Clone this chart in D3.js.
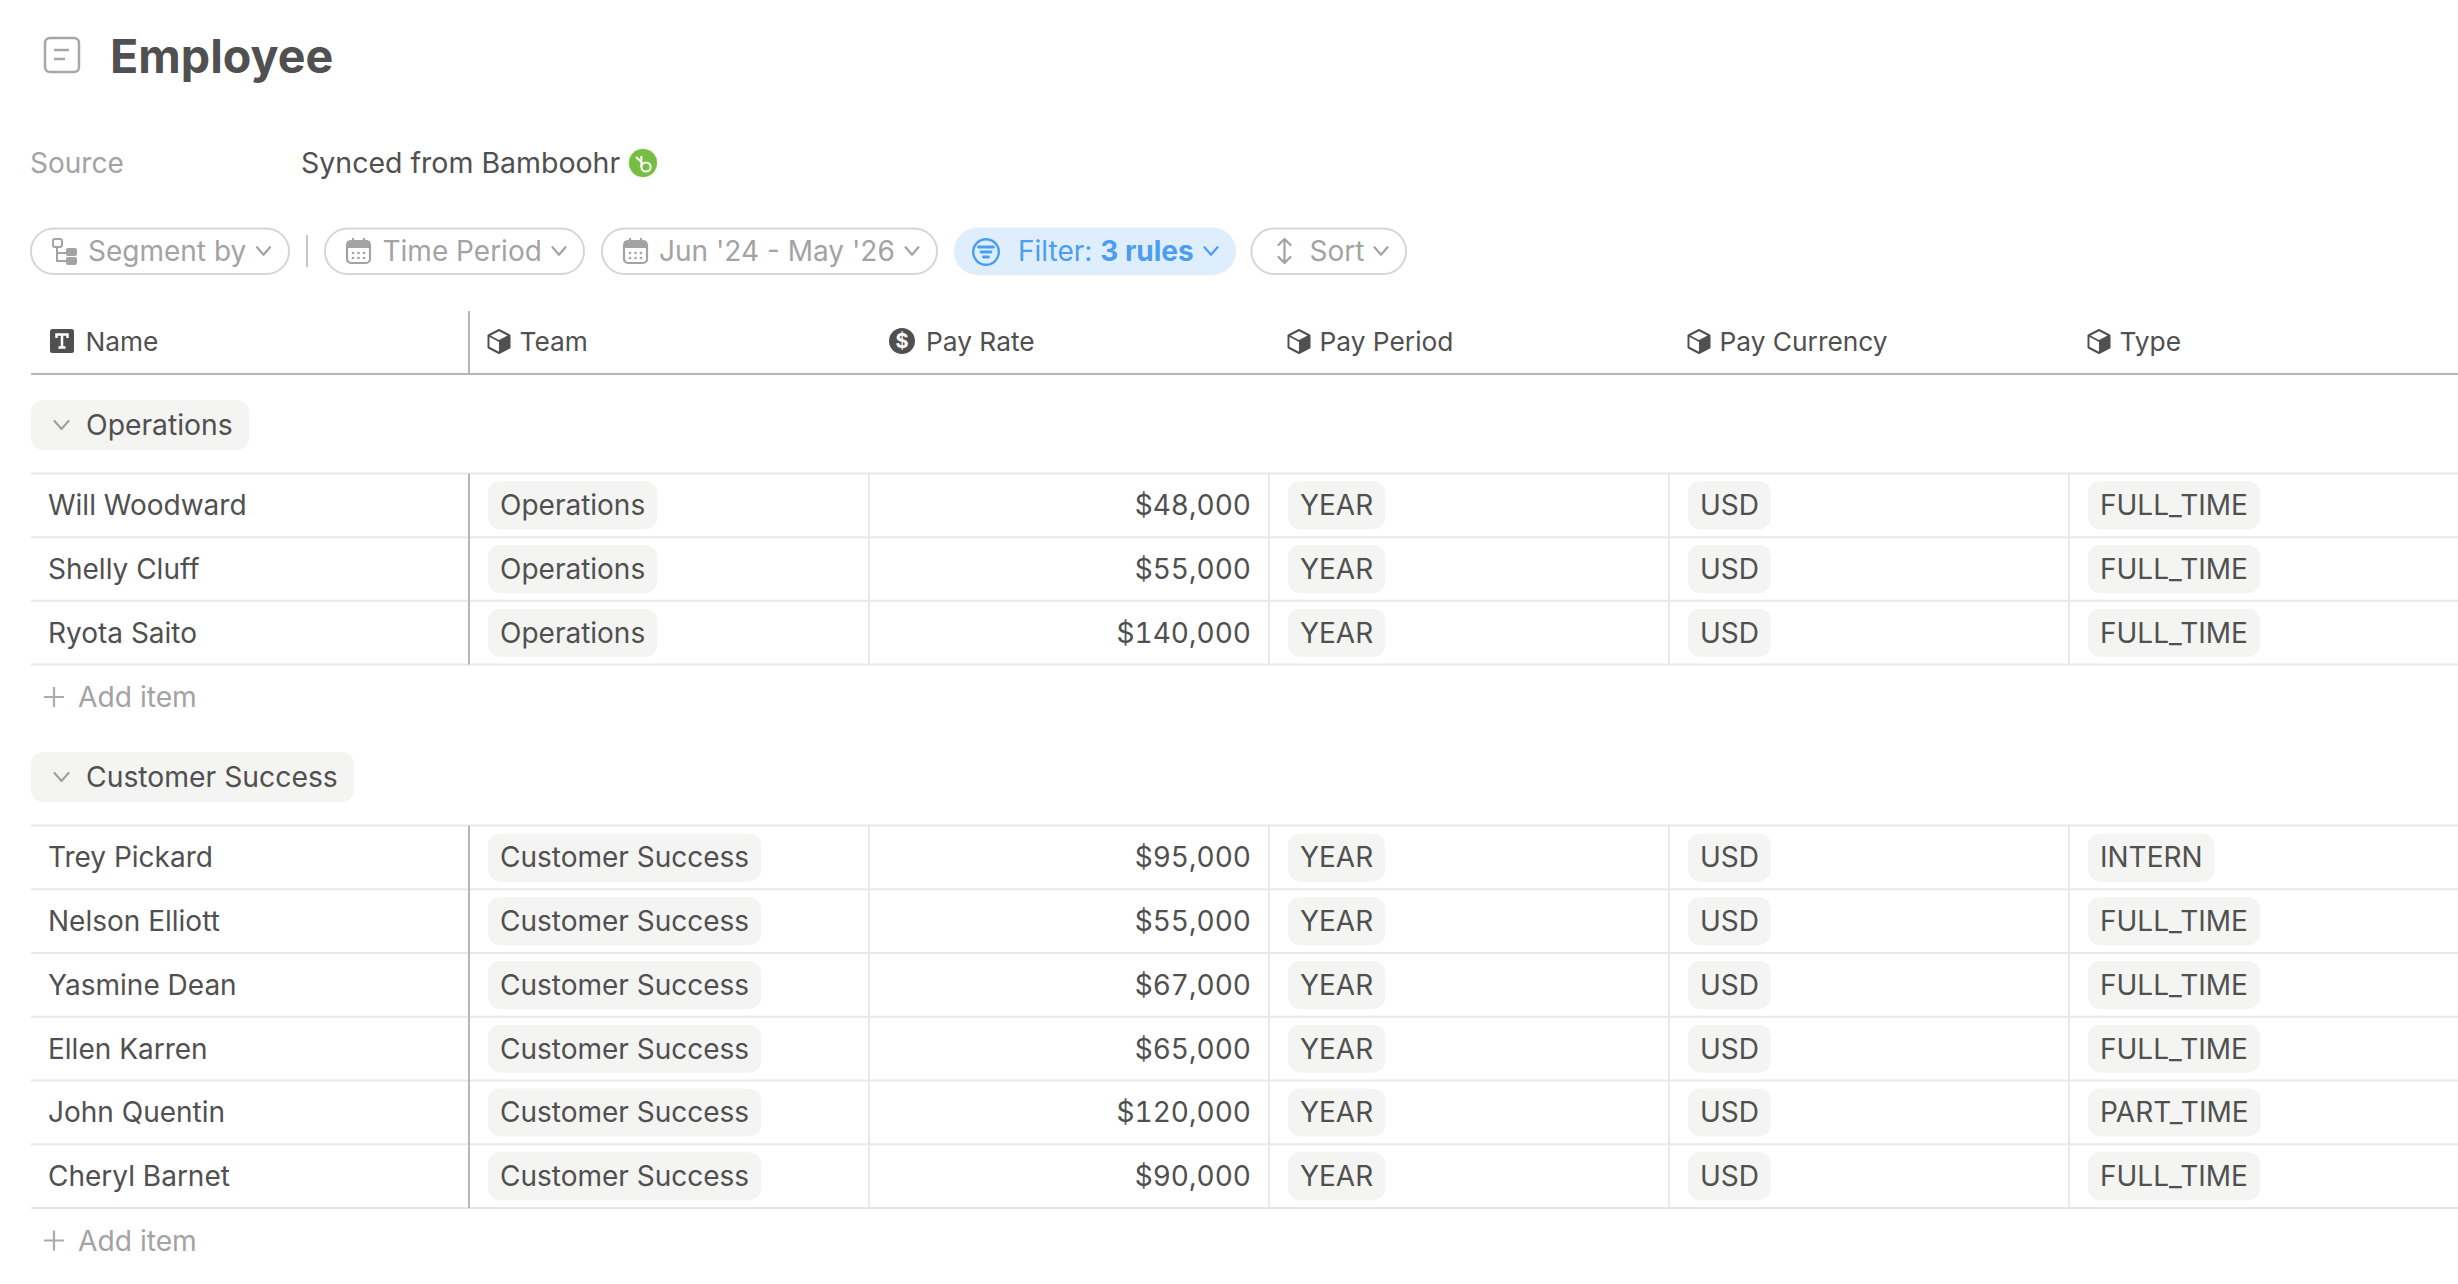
<!DOCTYPE html>
<html>
<head>
<meta charset="utf-8">
<title>Employee</title>
<script src="https://cdn.jsdelivr.net/npm/d3@7"></script>
<style>
  html, body { margin: 0; padding: 0; background: #fff; }
  svg { display: block; }
  text { font-family: Inter, "Noto Sans", sans-serif; }
  .pay { font-variant-numeric: tabular-nums; }
</style>
</head>
<body>
<div id="chart"></div>
<script>
/* DATA */
const PAGE_TITLE = "Employee"
const SOURCE_LABEL = "Source"
const SOURCE_VALUE = "Synced from Bamboohr"
const TOOLBAR_LABELS = ["Segment by", "Time Period", "Jun '24 - May '26", "Filter: ", "Sort"]
const FILTER_RULES = "3 rules"
const ADD_LABEL = "Add item"

const COLUMNS = ["Name", "Team", "Pay Rate", "Pay Period", "Pay Currency", "Type"]
const COLUMN_ICONS = ["text", "cube", "dollar", "cube", "cube", "cube"]

const GROUPS = ["Operations", "Customer Success"]
const OPERATIONS_NAMES = ["Will Woodward", "Shelly Cluff", "Ryota Saito"]
const OPERATIONS_PAY = [48000, 55000, 140000]
const OPERATIONS_TYPES = ["FULL_TIME", "FULL_TIME", "FULL_TIME"]
const SUCCESS_NAMES = ["Trey Pickard", "Nelson Elliott", "Yasmine Dean", "Ellen Karren", "John Quentin", "Cheryl Barnet"]
const SUCCESS_PAY = [95000, 55000, 67000, 65000, 120000, 90000]
const SUCCESS_TYPES = ["INTERN", "FULL_TIME", "FULL_TIME", "FULL_TIME", "PART_TIME", "FULL_TIME"]
const PAY_PERIOD = "YEAR"
const PAY_CURRENCY = "USD"

/* LAYOUT */
const width = 2458, height = 1284
const INK = "#505050", MUTED = "#a3a3a3", CHIP = "#f4f4f3", GRID = "#e8e8e7", RULE = "#b7b7b7", BLUE = "#4a9df0"
const FONT = 28

const svg = d3.select("#chart").append("svg")
    .attr("width", width).attr("height", height).attr("viewBox", `0 0 ${width} ${height}`)
svg.append("rect").attr("width", width).attr("height", height).attr("fill", "#fff")

// the first column is wider, all the others are 400 wide
const x = d3.scalePoint().domain(COLUMNS.slice(1)).range([469, 2069])
const colTextX = name => name === "Name" ? 85.5 : x(name) + (name === "Pay Rate" ? 57 : 50.5)
const payFormat = d3.format("$,")

function label(g, px, py, str, opts = {}) {
    return g.append("text")
        .attr("x", px).attr("y", py)
        .attr("text-anchor", opts.anchor || "start")
        .attr("font-size", opts.size || FONT)
        .attr("font-weight", opts.weight || 400)
        .attr("fill", opts.color || INK)
        .text(str)
}

/* ICONS */
function chevron(g, cx, cy, color, w = 13, h = 7.5) {
    g.append("path")
        .attr("d", `M${cx - w / 2},${cy - h / 2} L${cx},${cy + h / 2} L${cx + w / 2},${cy - h / 2}`)
        .attr("fill", "none").attr("stroke", color).attr("stroke-width", 2.2)
        .attr("stroke-linecap", "round").attr("stroke-linejoin", "round")
}

function calendarIcon(g, px, py) {
    const c = g.append("g").attr("transform", `translate(${px},${py})`)
    c.append("rect").attr("x", 1).attr("y", 3).attr("width", 23).attr("height", 22).attr("rx", 4)
        .attr("fill", "none").attr("stroke", MUTED).attr("stroke-width", 2.2)
    c.append("rect").attr("x", 1).attr("y", 3).attr("width", 23).attr("height", 7).attr("fill", MUTED)
    c.selectAll("line").data([7, 18]).enter().append("line")
        .attr("x1", d => d).attr("x2", d => d).attr("y1", 0).attr("y2", 5)
        .attr("stroke", MUTED).attr("stroke-width", 2.2)
    c.selectAll("circle").data(d3.cross([7, 12.5, 18], [15, 20])).enter().append("circle")
        .attr("cx", d => d[0]).attr("cy", d => d[1]).attr("r", 1.3).attr("fill", MUTED)
}

function segmentIcon(g, px, py) {
    const c = g.append("g").attr("transform", `translate(${px},${py})`)
    c.append("rect").attr("x", 1).attr("y", 1).attr("width", 9).attr("height", 8).attr("rx", 2)
        .attr("fill", "none").attr("stroke", MUTED).attr("stroke-width", 2)
    c.append("path").attr("d", "M5,9 V23 H14 M5,15 H14").attr("fill", "none").attr("stroke", MUTED).attr("stroke-width", 2)
    c.append("rect").attr("x", 14).attr("y", 10).attr("width", 11).attr("height", 8).attr("rx", 2).attr("fill", MUTED)
    c.append("rect").attr("x", 14).attr("y", 19).attr("width", 11).attr("height", 8).attr("rx", 2).attr("fill", MUTED)
}

function filterIcon(g, px, py) {
    const c = g.append("g").attr("transform", `translate(${px},${py})`)
    c.append("circle").attr("cx", 14).attr("cy", 14).attr("r", 12.8)
        .attr("fill", "none").attr("stroke", BLUE).attr("stroke-width", 2.4)
    c.selectAll("line").data([[6.5, 21.5, 9], [9, 19, 14], [11.5, 16.5, 19]]).enter().append("line")
        .attr("x1", d => d[0]).attr("x2", d => d[1]).attr("y1", d => d[2]).attr("y2", d => d[2])
        .attr("stroke", BLUE).attr("stroke-width", 2.8).attr("stroke-linecap", "round")
}

function sortIcon(g, px, py) {
    g.append("path")
        .attr("transform", `translate(${px},${py})`)
        .attr("d", "M7.5,1 V25 M1.5,7 L7.5,1 L13.5,7 M1.5,19 L7.5,25 L13.5,19")
        .attr("fill", "none").attr("stroke", MUTED).attr("stroke-width", 2.2)
        .attr("stroke-linecap", "round").attr("stroke-linejoin", "round")
}

function columnIcon(g, kind, px, py) {
    const c = g.append("g").attr("transform", `translate(${px},${py})`)
    if (kind === "text") {
        c.append("rect").attr("width", 24).attr("height", 24).attr("rx", 2.5).attr("fill", INK)
        c.append("path").attr("d", "M6.5,9 V5.5 H17.5 V9 M12,5.5 V18.5 M8.5,18.5 H15.5")
            .attr("fill", "none").attr("stroke", "#fff").attr("stroke-width", 2.5)
    } else if (kind === "dollar") {
        c.append("circle").attr("cx", 13).attr("cy", 13).attr("r", 13).attr("fill", INK)
        label(c, 13, 20, "$", { anchor: "middle", size: 20, weight: 700, color: "#fff" })
    } else {
        c.append("path").attr("d", "M12,1 L22.5,6.5 V18.5 L12,24 L1.5,18.5 V6.5 Z")
            .attr("fill", "#fff").attr("stroke", INK).attr("stroke-width", 2).attr("stroke-linejoin", "round")
        c.append("path").attr("d", "M12,12 L22.5,6.5 V18.5 L12,24 Z").attr("fill", INK)
        c.append("path").attr("d", "M1.5,6.5 L12,12 L22.5,6.5").attr("fill", "none").attr("stroke", INK).attr("stroke-width", 1.8)
    }
}

/* TITLE + SOURCE */
const head = svg.append("g")
head.append("rect").attr("x", 45).attr("y", 38).attr("width", 34).attr("height", 34).attr("rx", 5)
    .attr("fill", "none").attr("stroke", "#a6a6a6").attr("stroke-width", 2.5)
head.append("path").attr("d", "M54,50 H69 M54,59 H65").attr("stroke", "#a6a6a6").attr("stroke-width", 2.5)
label(head, 110, 73, PAGE_TITLE, { size: 46.6, weight: 700 })
label(head, 30, 173, SOURCE_LABEL, { color: MUTED })
label(head, 301, 173, SOURCE_VALUE, { size: 28.5 })
head.append("circle").attr("cx", 643).attr("cy", 163).attr("r", 15.5).attr("fill", "#f0f6ec")
head.append("circle").attr("cx", 643).attr("cy", 163).attr("r", 14).attr("fill", "#76bd43")
head.append("circle").attr("cx", 646).attr("cy", 167).attr("r", 4.6)
    .attr("fill", "none").attr("stroke", "#fff").attr("stroke-width", 2)
head.append("path").attr("d", "M641.4,156 V167 M636,157 L641.4,162")
    .attr("fill", "none").attr("stroke", "#fff").attr("stroke-width", 2)

/* TOOLBAR */
const pillStart = [31, 325, 602, 955, 1251.5]
const pillEnd = [289, 584, 937, 1235, 1406]
const pillIconX = [52, 346, 623, 972, 1277]
const pillTextX = [88, 382.5, 659, 1018, 1309.5]
const pillIcons = [segmentIcon, calendarIcon, calendarIcon, filterIcon, sortIcon]
const pillChevron = [263.5, 559, 912, 1211, 1381]
const toolbar = svg.append("g")
TOOLBAR_LABELS.forEach((name, i) => {
    const isFilter = i === 3
    toolbar.append("rect")
        .attr("x", pillStart[i]).attr("y", 228.5)
        .attr("width", pillEnd[i] - pillStart[i]).attr("height", 45.5).attr("rx", 22.7)
        .attr("fill", isFilter ? "#deeefd" : "#fff")
        .attr("stroke", isFilter ? "#deeefd" : "#d6d6d6").attr("stroke-width", 2)
    pillIcons[i](toolbar, pillIconX[i], 238)
    const t = label(toolbar, pillTextX[i], 261, name, { color: isFilter ? BLUE : MUTED })
    if (isFilter) t.append("tspan").attr("font-weight", 700).text(FILTER_RULES)
    chevron(toolbar, pillChevron[i], 251, isFilter ? BLUE : MUTED)
})
toolbar.append("line").attr("x1", 307).attr("x2", 307).attr("y1", 235).attr("y2", 267)
    .attr("stroke", "#c8c8c8").attr("stroke-width", 2)

/* HEADER ROW */
const header = svg.append("g")
COLUMNS.forEach((name, i) => {
    const iconX = name === "Name" ? 50 : name === "Pay Rate" ? x(name) + 20 : x(name) + 18
    columnIcon(header, COLUMN_ICONS[i], iconX, name === "Pay Rate" ? 328 : 329)
    label(header, colTextX(name), 351, name, { size: 26.3 })
})
header.append("line").attr("x1", 31).attr("x2", width).attr("y1", 374).attr("y2", 374)
    .attr("stroke", RULE).attr("stroke-width", 2)
header.append("line").attr("x1", 469).attr("x2", 469).attr("y1", 311).attr("y2", 374)
    .attr("stroke", RULE).attr("stroke-width", 2)

/* GROUPS */
const TEXT_DROP = 10.1

function chip(g, px, cy, str, h = 48) {
    const t = label(g, px + 12, cy + TEXT_DROP, str)
    const w = t.node().getComputedTextLength() + 24
    g.insert("rect", "text")
        .attr("x", px).attr("y", cy - h / 2)
        .attr("width", w).attr("height", h).attr("rx", 12)
        .attr("fill", CHIP)
}

function drawGroup(groupName, names, pays, types, chipTop, chipWidth, rowRange, addOffset) {
    const g = svg.append("g")

    // group title chip
    g.append("rect").attr("x", 31).attr("y", chipTop).attr("width", chipWidth).attr("height", 50).attr("rx", 12).attr("fill", CHIP)
    chevron(g, 61.5, chipTop + 25, "#a0a0a0", 14, 8)
    label(g, 86, chipTop + 35, groupName, { size: 28.3 })

    const y = d3.scaleBand().domain(names).range(rowRange)
    const lines = [...names.map(n => y(n)), rowRange[1]]

    g.selectAll("line.row").data(lines).enter().append("line")
        .attr("class", "row")
        .attr("x1", 31).attr("x2", width).attr("y1", d => d).attr("y2", d => d)
        .attr("stroke", GRID).attr("stroke-width", 2)

    x.domain().forEach((col, i) => {
        g.append("line")
            .attr("x1", x(col)).attr("x2", x(col)).attr("y1", rowRange[0]).attr("y2", rowRange[1])
            .attr("stroke", i === 0 ? RULE : GRID).attr("stroke-width", 2)
    })

    names.forEach((name, i) => {
        const cy = y(name) + y.bandwidth() / 2
        const row = g.append("g")
        label(row, 48, cy + TEXT_DROP, name)
        chip(row.append("g"), x("Team") + 19, cy, groupName)
        label(row, x("Pay Period") - 18, cy + TEXT_DROP, payFormat(pays[i]), { anchor: "end" }).attr("class", "pay")
        chip(row.append("g"), x("Pay Period") + 19, cy, PAY_PERIOD)
        chip(row.append("g"), x("Pay Currency") + 19, cy, PAY_CURRENCY)
        chip(row.append("g"), x("Type") + 19, cy, types[i])
    })

    // add row
    const addY = rowRange[1] + addOffset
    g.append("path")
        .attr("d", `M54,${addY - 10} V${addY + 10} M44,${addY} H64`)
        .attr("stroke", "#ababab").attr("stroke-width", 2.2)
    label(g, 78, addY + 10, ADD_LABEL, { color: MUTED, size: 28.2 })
}

drawGroup(GROUPS[0], OPERATIONS_NAMES, OPERATIONS_PAY, OPERATIONS_TYPES, 400, 218, [473.5, 664.5], 32.5)
drawGroup(GROUPS[1], SUCCESS_NAMES, SUCCESS_PAY, SUCCESS_TYPES, 752, 323, [825.5, 1208], 32.5)
</script>
</body>
</html>
